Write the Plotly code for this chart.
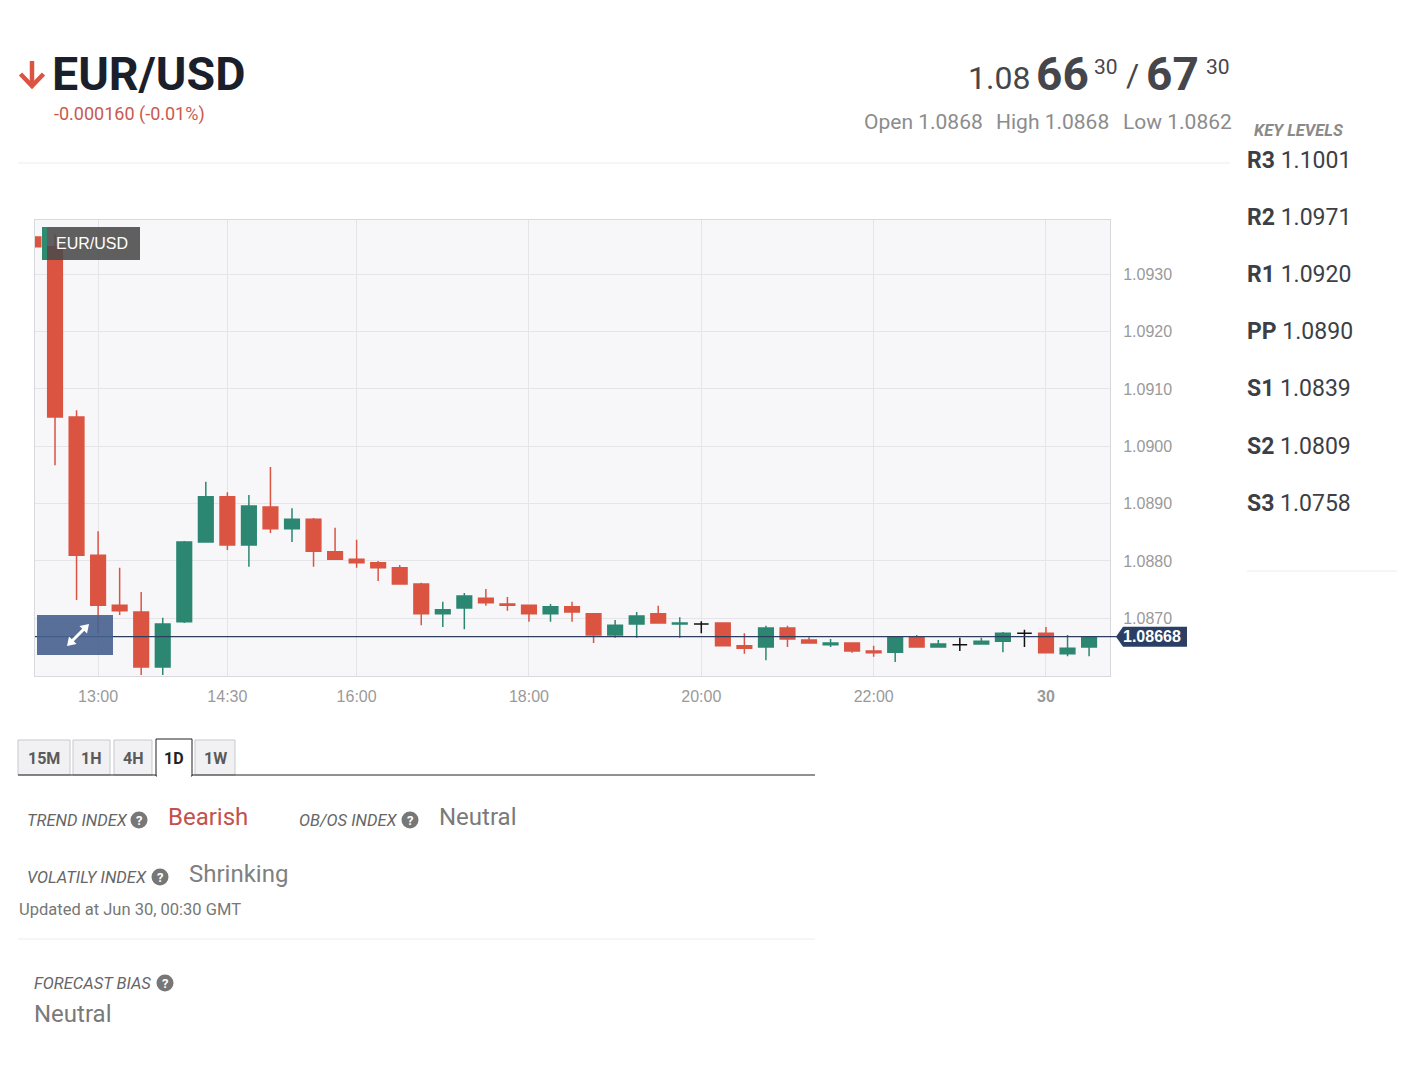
import plotly.graph_objects as go
import pandas as pd

W, H = 1416, 1072

# ---------------- data ----------------
times = pd.date_range("2023-06-29 12:15", periods=50, freq="15min")
opens = [1.09365, 1.09348, 1.09051, 1.08810, 1.08723, 1.08711, 1.08615, 1.08694, 1.08833, 1.08912,
         1.08828, 1.08894, 1.08856, 1.08873, 1.08816, 1.08803, 1.08797, 1.08788, 1.08760, 1.08708,
         1.08718, 1.08735, 1.08725, 1.08723, 1.08708, 1.08720, 1.08708, 1.08671, 1.08690, 1.08708,
         1.08690, 1.08690, 1.08692, 1.08652, 1.08650, 1.08683, 1.08662, 1.08654, 1.08657, 1.08643,
         1.08641, 1.08667, 1.08650, 1.08654, 1.08655, 1.08660, 1.08674, 1.08674, 1.08638, 1.08650]
highs = [1.09390, 1.09370, 1.09063, 1.08852, 1.08788, 1.08746, 1.08701, 1.08835, 1.08938, 1.08920,
         1.08915, 1.08964, 1.08892, 1.08875, 1.08858, 1.08837, 1.08800, 1.08793, 1.08762, 1.08729,
         1.08744, 1.08751, 1.08737, 1.08724, 1.08725, 1.08729, 1.08709, 1.08697, 1.08711, 1.08722,
         1.08702, 1.08695, 1.08693, 1.08674, 1.08687, 1.08687, 1.08667, 1.08664, 1.08658, 1.08652,
         1.08668, 1.08671, 1.08662, 1.08666, 1.08666, 1.08676, 1.08680, 1.08685, 1.08671, 1.08668]
lows = [1.09344, 1.08967, 1.08732, 1.08674, 1.08706, 1.08601, 1.08601, 1.08692, 1.08832, 1.08819,
        1.08790, 1.08849, 1.08833, 1.08790, 1.08802, 1.08788, 1.08765, 1.08759, 1.08688, 1.08685,
        1.08681, 1.08722, 1.08713, 1.08694, 1.08694, 1.08694, 1.08657, 1.08666, 1.08666, 1.08691,
        1.08666, 1.08674, 1.08651, 1.08638, 1.08627, 1.08650, 1.08656, 1.08650, 1.08640, 1.08633,
        1.08624, 1.08649, 1.08649, 1.08643, 1.08654, 1.08641, 1.08650, 1.08639, 1.08634, 1.08634]
closes = [1.09348, 1.09051, 1.08810, 1.08723, 1.08713, 1.08615, 1.08690, 1.08833, 1.08912, 1.08828,
          1.08896, 1.08856, 1.08873, 1.08817, 1.08803, 1.08797, 1.08788, 1.08760, 1.08708, 1.08715,
          1.08739, 1.08727, 1.08723, 1.08708, 1.08720, 1.08711, 1.08671, 1.08688, 1.08704, 1.08692,
          1.08692, 1.08690, 1.08652, 1.08648, 1.08683, 1.08664, 1.08657, 1.08657, 1.08643, 1.08640,
          1.08667, 1.08650, 1.08655, 1.08654, 1.08660, 1.08674, 1.08674, 1.08640, 1.08648, 1.08668]
current_price = 1.08668

y_ticks = [1.0870, 1.0880, 1.0890, 1.0900, 1.0910, 1.0920, 1.0930]
x_tick_times = ["2023-06-29 13:00", "2023-06-29 14:30", "2023-06-29 16:00", "2023-06-29 18:00",
                "2023-06-29 20:00", "2023-06-29 22:00", "2023-06-30 00:00"]
x_tick_labels = ["13:00", "14:30", "16:00", "18:00", "20:00", "22:00", "<b>30</b>"]
x_range = ["2023-06-29 12:16:04", "2023-06-30 00:44:34"]
y_range = [1.085994, 1.093947]

level_names = ["R3", "R2", "R1", "PP", "S1", "S2", "S3"]
level_values = ["1.1001", "1.0971", "1.0920", "1.0890", "1.0839", "1.0809", "1.0758"]
tabs = ["15M", "1H", "4H", "1D", "1W"]
active_tab = "1D"

RED = "#db5442"
GREEN = "#2c8772"
NAVY = "#2a3f63"

# ---------------- helpers ----------------
def px(x):
    return x / W

def py(y):
    return 1 - y / H

annotations = []
shapes = []

def txt(x, y, s, size, color, anchor="left", family="Roboto"):
    annotations.append(dict(xref="paper", yref="paper", x=px(x), y=py(y), text=s,
                            showarrow=False, xanchor=anchor, yanchor="middle",
                            borderpad=0, borderwidth=0,
                            font=dict(family=family, size=size, color=color)))

def rect(x0, y0, x1, y1, fill, line=None, lw=1, opacity=1, layer="above"):
    shapes.append(dict(type="rect", xref="paper", yref="paper", x0=px(x0), x1=px(x1),
                       y0=py(y1), y1=py(y0), fillcolor=fill, opacity=opacity, layer=layer,
                       line=dict(color=line or "rgba(0,0,0,0)", width=lw if line else 0)))

def hline(x0, x1, y, color, width=1):
    shapes.append(dict(type="line", xref="paper", yref="paper", x0=px(x0), x1=px(x1),
                       y0=py(y), y1=py(y), line=dict(color=color, width=width)))

def poly(points, fill=None, color=None, width=0):
    path = "M " + " L ".join(f"{px(a)},{py(b)}" for a, b in points)
    if fill:
        path += " Z"
    shapes.append(dict(type="path", xref="paper", yref="paper", path=path,
                       fillcolor=fill or "rgba(0,0,0,0)",
                       line=dict(color=color or "rgba(0,0,0,0)", width=width)))

def qmark(cx, cy):
    r = 8.5
    shapes.append(dict(type="circle", xref="paper", yref="paper", x0=px(cx - r), x1=px(cx + r),
                       y0=py(cy + r), y1=py(cy - r), fillcolor="#777777", line=dict(width=0)))
    txt(cx, cy, "<b>?</b>", 13, "white", anchor="center")

# ---------------- candles ----------------
idx_n = [i for i in range(len(opens)) if opens[i] != closes[i]]
idx_d = [i for i in range(len(opens)) if opens[i] == closes[i]]

def sub(arr, idx):
    return [arr[i] for i in idx]

fig = go.Figure()
fig.add_trace(go.Candlestick(
    x=sub(list(times), idx_n), open=sub(opens, idx_n), high=sub(highs, idx_n),
    low=sub(lows, idx_n), close=sub(closes, idx_n),
    increasing=dict(line=dict(color=GREEN, width=1.5), fillcolor=GREEN),
    decreasing=dict(line=dict(color=RED, width=1.5), fillcolor=RED),
    hoverinfo="skip", showlegend=False))
fig.add_trace(go.Candlestick(
    x=sub(list(times), idx_d), open=sub(opens, idx_d), high=sub(highs, idx_d),
    low=sub(lows, idx_d), close=sub(closes, idx_d),
    increasing=dict(line=dict(color="#111111", width=1.5), fillcolor="#111111"),
    decreasing=dict(line=dict(color="#111111", width=1.5), fillcolor="#111111"),
    hoverinfo="skip", showlegend=False))

# current price line + tag
shapes.append(dict(type="line", xref="paper", yref="y", x0=px(35), x1=px(1118),
                   y0=current_price, y1=current_price, line=dict(color="#2e3f5e", width=1.2)))
shapes.append(dict(type="path", xref="paper", yref="y", ysizemode="pixel", yanchor=current_price,
                   path=f"M {px(1123)},10 L {px(1116)},0 L {px(1123)},-10 L {px(1187)},-10 L {px(1187)},10 Z",
                   fillcolor=NAVY, line=dict(width=0)))
annotations.append(dict(xref="paper", yref="y", x=px(1152), y=current_price, text="<b>%.5f</b>" % current_price,
                        showarrow=False, xanchor="center", yanchor="middle", borderpad=0,
                        font=dict(family="Liberation Sans", size=16, color="white")))

# in-chart label
rect(42, 227, 140, 260, "#4a4a4a", opacity=0.88)
rect(42, 227, 47, 260, "#2e8b6f")
txt(92, 243.5, "EUR/USD", 16, "white", anchor="center", family="Liberation Sans")

# expand button
rect(37, 615, 113, 655, "#46618e", opacity=0.9)
poly([(72, 641), (84, 629)], color="white", width=3)
poly([(89, 624), (79.5, 626), (87, 633.5)], fill="white")
poly([(67, 646), (76.5, 644), (69, 636.5)], fill="white")

# ---------------- header ----------------
poly([(32, 61), (32, 85)], color=RED, width=4.5)
poly([(20.5, 74), (32, 86), (43.5, 74)], color=RED, width=4.5)
txt(51.5, 74, "<b>EUR/USD</b>", 46.5, "#1b1f2b")
txt(53.5, 114, "-0.000160 (-0.01%)", 18, "#c85a4e")

txt(968, 78, "1.08", 32, "#45464b")
txt(1036, 73.5, "<b>66</b>", 46, "#45464b")
txt(1094, 67, "30", 21, "#45464b")
txt(1126, 75, "/", 32, "#45464b")
txt(1146, 73.5, "<b>67</b>", 46, "#45464b")
txt(1206, 67, "30", 21, "#45464b")

txt(983, 122, "Open 1.0868", 21, "#8c8c8c", anchor="right")
txt(1109, 122, "High 1.0868", 21, "#8c8c8c", anchor="right")
txt(1232, 122, "Low 1.0862", 21, "#8c8c8c", anchor="right")

hline(18, 1230, 163, "#ececec")

# key levels
txt(1254, 131, "<b><i>KEY LEVELS</i></b>", 16.5, "#8a8a8a")
for k, (nm, val) in enumerate(zip(level_names, level_values)):
    txt(1247, 160 + k * 57.2, f"<b>{nm}</b> {val}", 23, "#3c3f46")
hline(1247, 1397, 571, "#ececec")

# ---------------- tabs ----------------
tab_boxes = [(18, 70), (73, 110), (114, 152), (156, 192), (195, 235)]
for name, (a, b) in zip(tabs, tab_boxes):
    if name == active_tab:
        rect(a, 739, b, 776, "white", line="#222222", lw=1)
        rect(a + 1, 774, b - 1, 777, "white")
        txt((a + b) / 2, 758, f"<b>{name}</b>", 16, "#222222", anchor="center")
    else:
        rect(a, 740, b, 775, "#f1f1f4", line="#c9c9cd", lw=1)
        txt((a + b) / 2, 758, f"<b>{name}</b>", 16, "#5a5a5a", anchor="center")
hline(18, 156, 775, "#222222")
hline(192, 815, 775, "#222222")

# ---------------- indexes ----------------
LBL = "#666666"
txt(27, 820, "<i>TREND INDEX</i>", 16.5, LBL)
qmark(139, 820)
txt(168, 817, "Bearish", 24, "#c4514a")
txt(299, 820, "<i>OB/OS INDEX</i>", 16.5, LBL)
qmark(410, 820)
txt(439, 817, "Neutral", 24, "#7a7a7a")
txt(27, 877, "<i>VOLATILY INDEX</i>", 16.5, LBL)
qmark(160, 877)
txt(189, 874, "Shrinking", 24, "#808080")
txt(19, 909, "Updated at Jun 30, 00:30 GMT", 16.5, "#777777")
hline(18, 815, 939, "#ececec")
txt(34, 983, "<i>FORECAST BIAS</i>", 16.5, LBL)
qmark(165, 983)
txt(34, 1014, "Neutral", 24, "#7a7a7a")

# ---------------- layout ----------------
fig.update_layout(
    width=W, height=H, margin=dict(l=0, r=0, t=0, b=0, pad=0),
    paper_bgcolor="white", plot_bgcolor="#f7f7f9", showlegend=False,
    hovermode=False, boxgap=0.15, boxgroupgap=0.2,
    xaxis=dict(domain=[px(35), px(1110)], type="date", range=x_range,
               tickvals=x_tick_times, ticktext=x_tick_labels,
               showgrid=True, gridcolor="#e4e4e9", gridwidth=1,
               showline=True, linecolor="#d8d9de", linewidth=1, mirror=True,
               ticks="outside", ticklen=6, tickcolor="rgba(0,0,0,0)",
               tickfont=dict(family="Liberation Sans", size=16, color="#9a9a9a"),
               rangeslider=dict(visible=False), zeroline=False, fixedrange=True),
    yaxis=dict(domain=[py(676), py(220)], range=y_range, side="right",
               tickvals=y_ticks, tickformat=".4f",
               showgrid=True, gridcolor="#e4e4e9", gridwidth=1,
               showline=True, linecolor="#d8d9de", linewidth=1, mirror=True,
               ticks="outside", ticklen=9, tickcolor="rgba(0,0,0,0)",
               tickfont=dict(family="Liberation Sans", size=16, color="#9a9a9a"),
               zeroline=False, fixedrange=True),
    shapes=shapes, annotations=annotations,
)

fig.write_html("out.html", config={"displayModeBar": False},
               post_script="document.body.style.margin='0';document.body.style.overflow='hidden';")
